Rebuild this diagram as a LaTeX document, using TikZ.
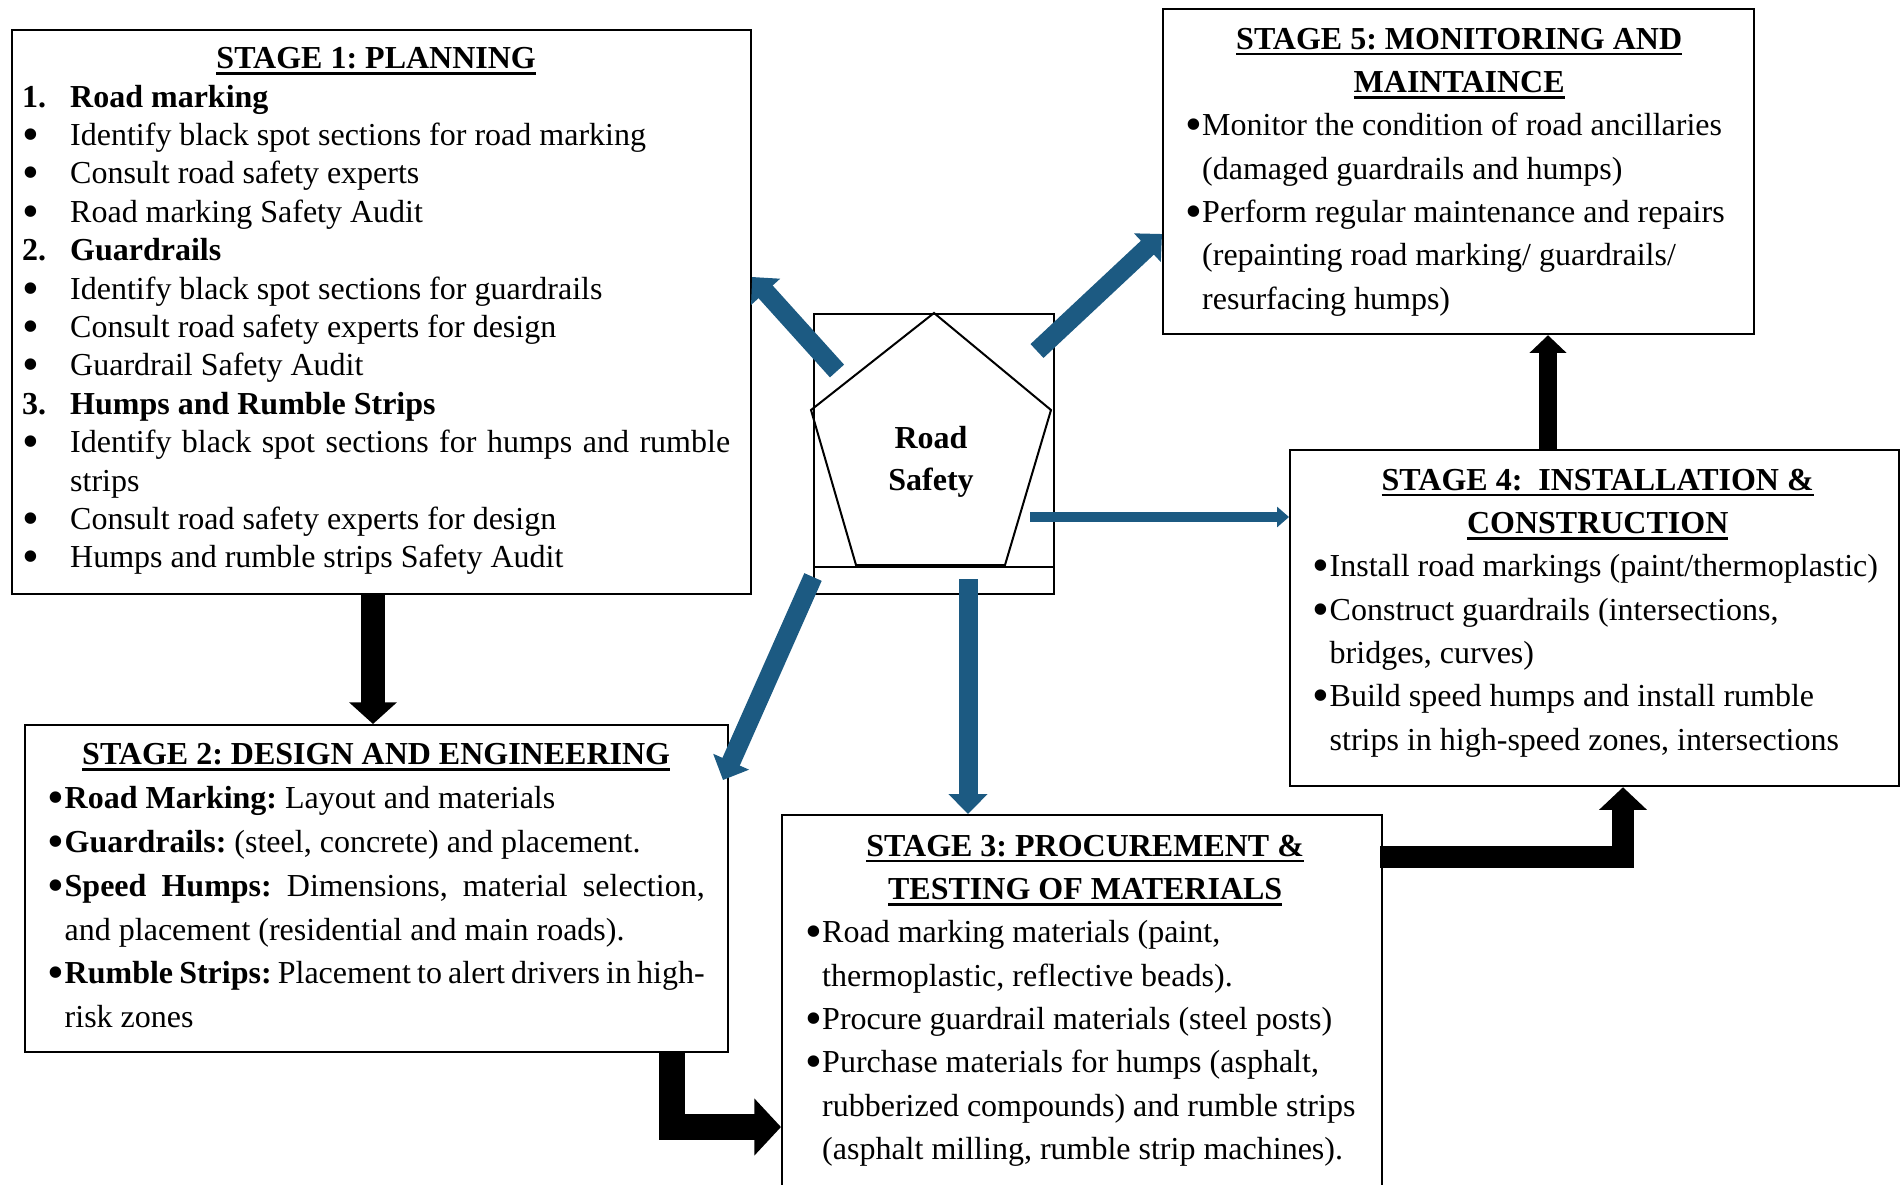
\documentclass[tikz,border=0pt]{standalone}
\usepackage{fontspec}
\setmainfont{Liberation Serif}
\usepackage{graphicx}
\usepackage{tikz}
\usetikzlibrary{arrows.meta, positioning, calc}

\definecolor{rsblue}{RGB}{28,90,130}

\newcommand{\headul}[1]{\noindent\setbox0\hbox{\strut\bfseries #1}\rlap{\rule[-6pt]{\wd0}{2.6pt}}\box0}
\newcommand{\bul}{\raisebox{-5pt}{\scalebox{1.5}{\textbullet}}}
\newcommand{\bitem}[2][17pt]{\par\noindent\hangindent=#1\hangafter=1\makebox[#1][l]{\bul}#2}
\newcommand{\nitem}[2]{\par\noindent\makebox[48pt][l]{\bfseries #1}\textbf{#2}}

\begin{document}
\frenchspacing
\begin{tikzpicture}[
		x=1pt,
		y=-1pt,
		stagebox/.style={draw, line width=2.2pt, fill=white, anchor=north west, inner sep=0pt},
		stagetext/.style={anchor=north west, inner sep=0pt, align=justify, font=\fontsize{32}{#1}\selectfont},
		stagetext/.default=43.3,
		bluearrow/.style={color=rsblue, line width=19pt, -{Triangle[width=38pt,length=20pt]}},
		blackarrow/.style={line width=#1, line join=miter}
		]
		\path[use as bounding box, fill=white] (0,0) rectangle (1901,1184);
		\clip (0,0) rectangle (1901,1184);
		
		% Stage boxes
		\node[stagebox, minimum width=739pt, minimum height=564pt] (s1) at (11,29) {};
		\node[stagebox, minimum width=703pt, minimum height=327pt] (s2) at (24,724) {};
		\node[stagebox, minimum width=600pt, minimum height=400pt] (s3) at (781,814) {};
		\node[stagebox, minimum width=609pt, minimum height=336pt] (s4) at (1289,449) {};
		\node[stagebox, minimum width=591pt, minimum height=325pt] (s5) at (1162,8) {};
		
		% Stage 1
		\node[stagetext=38.4, text width=708pt] (t1) at ([shift={(11,12.6)}]s1.north west) {%
			{\centering\headul{STAGE 1: PLANNING}\par}
			\nitem{1.}{Road marking}
			\bitem[48pt]{Identify black spot sections for road marking}
			\bitem[48pt]{Consult road safety experts}
			\bitem[48pt]{Road marking Safety Audit}
			\nitem{2.}{Guardrails}
			\bitem[48pt]{Identify black spot sections for guardrails}
			\bitem[48pt]{Consult road safety experts for design}
			\bitem[48pt]{Guardrail Safety Audit}
			\nitem{3.}{Humps and Rumble Strips}
			\bitem[48pt]{Identify black spot sections for humps and rumble\linebreak strips}
			\bitem[48pt]{Consult road safety experts for design}
			\bitem[48pt]{Humps and rumble strips Safety Audit}\par};
		
		% Stage 2
		\node[stagetext=43.8, text width=657pt] (t2) at ([shift={(23.5,10)}]s2.north west) {%
			{\centering\headul{STAGE 2: DESIGN AND ENGINEERING}\par}
			\bitem{\textbf{Road Marking:} Layout and materials}
			\bitem{\textbf{Guardrails:} (steel, concrete) and placement.}
			\bitem{\textbf{Speed Humps:} Dimensions, material selection,\linebreak and placement (residential and main roads).}
			\bitem{\textbf{Rumble Strips:} Placement to alert drivers in high-\linebreak risk zones}\par};
		
		% Stage 3
		\node[stagetext, text width=560pt] (t3) at ([shift={(24,11.7)}]s3.north west) {%
			{\centering\headul{STAGE 3: PROCUREMENT \&}\par\headul{TESTING OF MATERIALS}\par}
			\bitem{Road marking materials (paint,\\ thermoplastic, reflective beads).}
			\bitem{Procure guardrail materials (steel posts)}
			\bitem{Purchase materials for humps (asphalt,\\ rubberized compounds) and rumble strips\\ (asphalt milling, rumble strip machines).}\par};
		
		% Stage 4
		\node[stagetext, text width=570pt] (t4) at ([shift={(23.5,10.7)}]s4.north west) {%
			{\centering\headul{STAGE 4:~ INSTALLATION \&}\par\headul{CONSTRUCTION}\par}
			\bitem{Install road markings (paint/thermoplastic)}
			\bitem{Construct guardrails (intersections,\\ bridges, curves)}
			\bitem{Build speed humps and install rumble\\ strips in high-speed zones, intersections}\par};
		
		% Stage 5
		\node[stagetext, text width=548pt] (t5) at ([shift={(23,10.7)}]s5.north west) {%
			{\centering\headul{STAGE 5: MONITORING AND}\par\headul{MAINTAINCE}\par}
			\bitem{Monitor the condition of road ancillaries\\ (damaged guardrails and humps)}
			\bitem{Perform regular maintenance and repairs\\ (repainting road marking/ guardrails/\\ resurfacing humps)}\par};
		
		% Road safety pentagon
		\node[stagebox, line width=2pt, minimum width=240pt, minimum height=280pt] (rs) at (813,313) {};
		\draw[line width=2pt] ([shift={(0,-28)}]rs.south west) -- ([shift={(0,-28)}]rs.south east);
		\draw[line width=2pt, line join=miter] (rs.north) -- ([shift={(-2,97)}]rs.north west)
			-- ([shift={(43,252)}]rs.north west) -- ([shift={(192,252)}]rs.north west)
			-- ([shift={(238,97)}]rs.north west) -- cycle;
		\node[font=\bfseries\fontsize{32}{42}\selectfont, align=center] (rstext) at (931,462) {Road\\Safety};
		
		% Blue arrows out of the centre
		\draw[bluearrow] ([shift={(24,58)}]rs.north west) -- ([shift={(0,248)}]s1.north east);
		\draw[bluearrow] ([shift={(224,38)}]rs.north west) -- ([shift={(0,226)}]s5.north west);
		\draw[bluearrow, line width=10pt, -{Triangle[width=20pt,length=12pt]}] ([shift={(217,204)}]rs.north west) -- ([shift={(0,68)}]s4.north west);
		\draw[bluearrow] ([shift={(0,264)}]rs.north west) -- ([shift={(699,56)}]s2.north west);
		\draw[bluearrow] ([shift={(155,266)}]rs.north west) -- ([shift={(187,0)}]s3.north west);
		
		% Black arrows between stages
		\draw[blackarrow=23.3pt, -{Triangle[width=46.7pt,length=21.7pt]}] ([shift={(362,0)}]s1.south west) -- ([shift={(349,0)}]s2.north west);
		\draw[blackarrow=26.7pt, -{Triangle[width=55.7pt,length=26.7pt]}] ([shift={(648,0)}]s2.south west) |- ([shift={(0,313)}]s3.north west);
		\draw[blackarrow=22.3pt, -{Triangle[width=46.7pt,length=22.7pt]}] ([shift={(-3,43)}]s3.north east) -| ([shift={(334,0)}]s4.south west);
		\draw[blackarrow=18.3pt, -{Triangle[width=36pt,length=17.7pt]}] ([shift={(259,0)}]s4.north west) -- ([shift={(386,0)}]s5.south west);
		
	\end{tikzpicture}
\end{document}
